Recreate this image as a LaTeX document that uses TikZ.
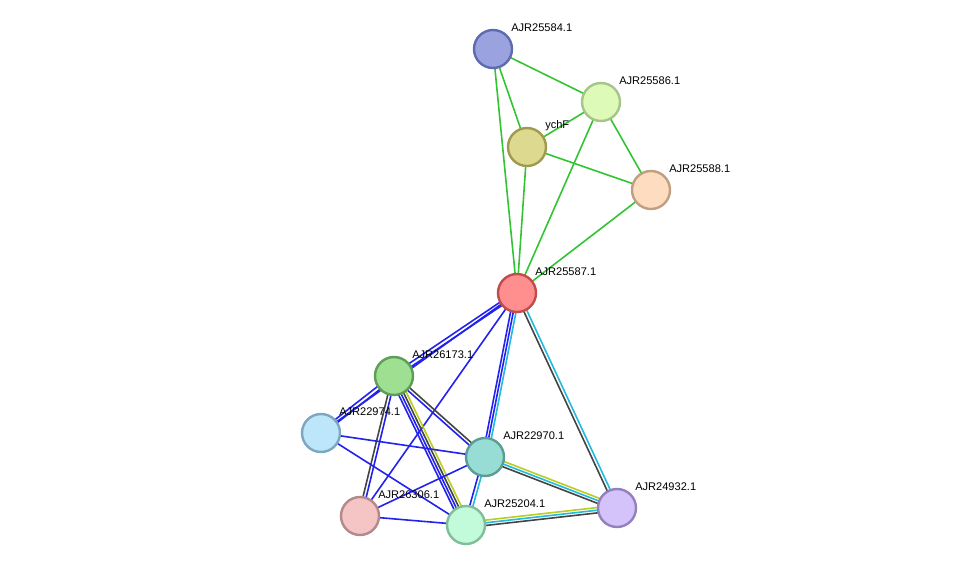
\documentclass[tikz,border=0pt]{standalone}
\usepackage{fontspec}
\setmainfont{Liberation Sans}
\usetikzlibrary{calc,backgrounds}
\definecolor{eg}{HTML}{33C433}
\definecolor{eb}{HTML}{2222EE}
\definecolor{ec}{HTML}{22BBDD}
\definecolor{ek}{HTML}{444444}
\definecolor{ey}{HTML}{BBCC22}
\newcommand\Ed[4]{\draw[#4,line width=1.2pt] ($(#1)!#3!90:(#2)$) -- ($(#2)!#3!-90:(#1)$);}
\begin{document}
\begin{tikzpicture}[x=0.75pt,y=-0.75pt,
  nd/.style={circle,minimum size=28.5pt,inner sep=0pt,line width=1.8pt},
  lb/.style={anchor=west,font=\fontsize{8.3}{10}\selectfont,inner sep=0pt}]
\useasboundingbox (0,0) rectangle (976,571);
\def\N#1#2#3#4#5{\node[nd,fill={[HTML]#4},draw={[HTML]#5}] (#1) at (#2) {};
  \node[lb] at ($(#2)+(18,-21)$) {#3};}
\newcommand\NN[5]{\definecolor{f#1}{HTML}{#4}\definecolor{d#1}{HTML}{#5}%
  \node[nd,fill=f#1,draw=d#1] (#1) at (#2) {};
  \node[lb] at ($(#2)+(18,-21)$) {#3};}
\NN{a}{493,49}{AJR25584.1}{9AA3E0}{5E6BAE}
\NN{b}{601,102}{AJR25586.1}{DDFAB8}{A7C48A}
\NN{c}{527,147}{ychF}{DDDA8F}{9E9A4E}
\NN{d}{651,190}{AJR25588.1}{FDDCC0}{C19E80}
\NN{e}{517,293}{AJR25587.1}{FF8F8F}{C24B4B}
\NN{f}{394,376}{AJR26173.1}{9EDF92}{5E9D55}
\NN{g}{321,433}{AJR22974.1}{BDE6FB}{7CA7C0}
\NN{h}{485,457}{AJR22970.1}{98DDD5}{5B9D94}
\NN{i}{617,508}{AJR24932.1}{D4C3FA}{9380BE}
\NN{j}{360,516}{AJR26306.1}{F5C5C5}{B38989}
\NN{k}{466,525}{AJR25204.1}{C2FBDA}{80BE9A}
\begin{scope}[on background layer]
\Ed{a}{b}{0pt}{eg}\Ed{a}{c}{0pt}{eg}\Ed{a}{e}{0pt}{eg}
\Ed{b}{c}{0pt}{eg}\Ed{b}{d}{0pt}{eg}\Ed{b}{e}{0pt}{eg}
\Ed{c}{d}{0pt}{eg}\Ed{c}{e}{0pt}{eg}\Ed{d}{e}{0pt}{eg}
\Ed{e}{f}{-1.4pt}{eb}\Ed{e}{f}{1.4pt}{eb}
\Ed{e}{g}{0pt}{eb}\Ed{f}{g}{-1.4pt}{eb}\Ed{f}{g}{1.4pt}{eb}
\Ed{e}{j}{0pt}{eb}
\Ed{e}{h}{-2pt}{eb}\Ed{e}{h}{0pt}{eb}\Ed{e}{h}{2pt}{ec}
\Ed{e}{i}{-1.2pt}{ek}\Ed{e}{i}{1.2pt}{ec}
\Ed{f}{j}{-1.2pt}{ek}\Ed{f}{j}{1.2pt}{eb}
\Ed{f}{h}{-1.2pt}{eb}\Ed{f}{h}{1.2pt}{ek}
\Ed{f}{k}{-3pt}{eb}\Ed{f}{k}{-1pt}{eb}\Ed{f}{k}{1pt}{ek}\Ed{f}{k}{3pt}{ey}
\Ed{g}{h}{0pt}{eb}\Ed{g}{k}{0pt}{eb}
\Ed{j}{h}{0pt}{eb}\Ed{j}{k}{0pt}{eb}
\Ed{h}{k}{-1.2pt}{eb}\Ed{h}{k}{1.2pt}{ec}
\Ed{h}{i}{-2pt}{ek}\Ed{h}{i}{0pt}{ec}\Ed{h}{i}{2pt}{ey}
\Ed{k}{i}{-2pt}{ek}\Ed{k}{i}{0pt}{ec}\Ed{k}{i}{2pt}{ey}
\end{scope}
\end{tikzpicture}
\end{document}
